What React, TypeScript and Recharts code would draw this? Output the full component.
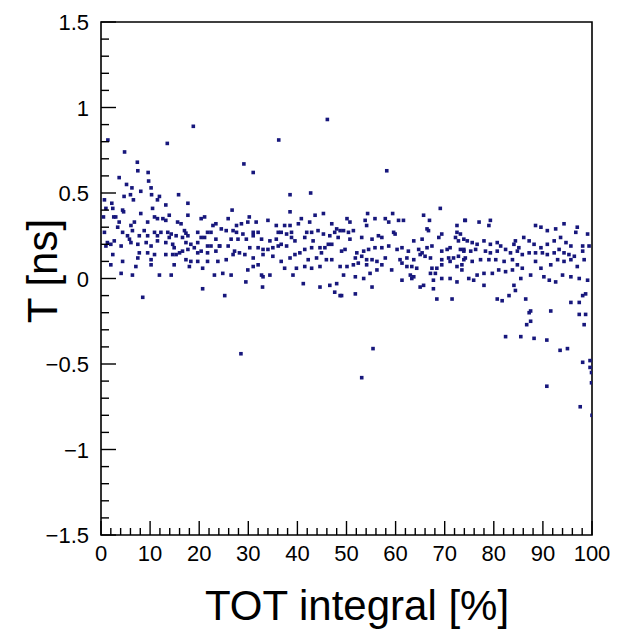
import React from "react";
import { ScatterChart, Scatter, XAxis, YAxis, ReferenceArea } from "recharts";

// T vs TOT integral ([x %, T ns])
const band0to25: [number, number][] = [
  [3.7, 0.59], [7.5, 0.63], [9.6, 0.62], [9.7, 0.57], [5.2, 0.55], [6.3, 0.53], [8.1, 0.51], [10.2, 0.53],
  [10.3, 0.49], [6.0, 0.49], [4.7, 0.48], [6.6, 0.46], [0.7, 0.46], [2.2, 0.44], [11.9, 0.48], [11.5, 0.46],
  [15.8, 0.49], [13.2, 0.43], [17.7, 0.44], [10.5, 0.41], [1.0, 0.41], [2.4, 0.41], [4.4, 0.4], [4.6, 0.39],
  [0.5, 0.36], [2.6, 0.36], [3.0, 0.36], [8.1, 0.38], [10.9, 0.36], [11.5, 0.35], [12.6, 0.35], [13.2, 0.34],
  [13.9, 0.37], [17.7, 0.37], [21.1, 0.36], [20.4, 0.35], [3.7, 0.33], [6.8, 0.33], [6.1, 0.31], [9.5, 0.33],
  [15.6, 0.33], [16.3, 0.32], [23.4, 0.32], [22.8, 0.31], [3.4, 0.3], [0.7, 0.27], [4.4, 0.27], [6.4, 0.28],
  [8.8, 0.28], [10.9, 0.27], [12.2, 0.27], [13.6, 0.27], [17.0, 0.28], [17.3, 0.265], [19.7, 0.27], [21.7, 0.27],
  [22.4, 0.27], [14.3, 0.26], [5.4, 0.25], [5.8, 0.23], [7.8, 0.25], [9.5, 0.25], [11.5, 0.25], [13.9, 0.24],
  [15.3, 0.25], [16.6, 0.24], [17.7, 0.25], [20.4, 0.24], [21.1, 0.24], [23.4, 0.23], [1.3, 0.21], [2.0, 0.2],
  [2.7, 0.22], [1.0, 0.19], [4.1, 0.19], [6.1, 0.21], [7.5, 0.2], [9.2, 0.21], [10.2, 0.19], [11.5, 0.22],
  [13.2, 0.21], [14.6, 0.2], [14.9, 0.18], [17.3, 0.21], [18.3, 0.2], [19.7, 0.21], [19.0, 0.18], [22.4, 0.19],
  [21.7, 0.19], [24.1, 0.19], [2.4, 0.14], [7.8, 0.15], [9.5, 0.15], [10.9, 0.14], [13.2, 0.14], [14.6, 0.14],
  [15.3, 0.14], [16.0, 0.15], [16.6, 0.16], [17.7, 0.17], [19.7, 0.15], [20.4, 0.16], [21.7, 0.15], [23.4, 0.16],
  [7.5, 0.12], [10.2, 0.11], [17.3, 0.11], [18.3, 0.1], [19.7, 0.1], [21.7, 0.1], [23.8, 0.1], [4.4, 0.1],
  [2.0, 0.08], [7.1, 0.07], [10.2, 0.08], [14.9, 0.08], [18.0, 0.07], [20.7, 0.06], [4.1, 0.03], [6.4, 0.02],
  [11.9, 0.02], [14.3, 0.02], [23.1, 0.02], [20.7, -0.06], [8.5, -0.11],
];

const band25to50: [number, number][] = [
  [31.0, 0.62], [38.5, 0.49], [42.7, 0.5], [26.7, 0.4], [38.5, 0.39], [25.9, 0.35], [30.2, 0.36], [29.9, 0.33],
  [28.6, 0.32], [27.6, 0.31], [31.6, 0.33], [34.0, 0.34], [35.7, 0.31], [37.4, 0.31], [38.5, 0.31], [40.2, 0.32],
  [40.8, 0.35], [42.5, 0.33], [43.6, 0.37], [45.3, 0.38], [47.0, 0.32], [48.0, 0.29], [48.7, 0.28], [24.5, 0.29],
  [25.5, 0.28], [26.9, 0.28], [27.6, 0.27], [28.9, 0.26], [31.0, 0.27], [32.0, 0.27], [36.1, 0.27], [36.7, 0.27],
  [37.8, 0.26], [38.8, 0.27], [41.9, 0.27], [42.9, 0.27], [44.2, 0.28], [45.3, 0.26], [47.6, 0.27], [48.3, 0.24],
  [26.5, 0.23], [27.9, 0.23], [29.6, 0.23], [31.0, 0.25], [32.7, 0.23], [34.4, 0.22], [35.7, 0.23], [38.8, 0.24],
  [39.5, 0.22], [41.5, 0.24], [43.2, 0.22], [46.6, 0.25], [24.2, 0.19], [25.9, 0.19], [27.2, 0.16], [28.2, 0.15],
  [29.3, 0.14], [30.3, 0.18], [32.0, 0.18], [33.0, 0.17], [34.0, 0.17], [35.0, 0.18], [36.1, 0.19], [36.7, 0.2],
  [37.8, 0.19], [40.5, 0.15], [41.5, 0.17], [42.9, 0.18], [44.6, 0.18], [45.6, 0.18], [46.3, 0.2], [47.0, 0.2],
  [49.0, 0.16], [25.5, 0.11], [26.9, 0.14], [31.0, 0.12], [33.0, 0.14], [35.0, 0.13], [38.5, 0.12], [39.5, 0.14],
  [42.2, 0.11], [43.9, 0.12], [44.9, 0.15], [45.9, 0.11], [47.0, 0.11], [24.8, 0.03], [26.5, 0.02], [29.9, 0.05],
  [31.0, 0.07], [32.0, 0.08], [36.7, 0.1], [37.4, 0.06], [39.8, 0.06], [41.5, 0.07], [42.9, 0.06], [44.6, 0.07],
  [48.7, 0.07], [32.7, 0.02], [33.0, 0.01], [34.4, 0.02], [39.1, 0.02], [29.5, -0.02], [32.9, -0.05], [41.2, -0.03],
  [44.6, -0.05], [46.6, -0.04], [48.0, -0.03], [47.6, -0.08], [48.7, -0.1], [25.2, -0.1],
];

const band50to75: [number, number][] = [
  [58.2, 0.63], [69.1, 0.41], [54.3, 0.38], [59.4, 0.38], [65.7, 0.37], [50.1, 0.35], [50.7, 0.33], [53.8, 0.34],
  [55.8, 0.35], [57.9, 0.35], [58.6, 0.33], [60.6, 0.34], [61.6, 0.34], [66.9, 0.34], [72.5, 0.31], [74.1, 0.34],
  [49.4, 0.28], [50.4, 0.27], [51.4, 0.28], [54.1, 0.31], [56.5, 0.25], [57.2, 0.24], [59.6, 0.27], [59.9, 0.26],
  [66.4, 0.29], [66.7, 0.28], [69.4, 0.26], [72.5, 0.27], [73.2, 0.26], [50.7, 0.23], [53.1, 0.24], [55.2, 0.23],
  [63.7, 0.22], [65.4, 0.23], [68.8, 0.24], [72.2, 0.24], [72.8, 0.22], [73.9, 0.23], [49.7, 0.17], [52.1, 0.15],
  [53.5, 0.16], [54.5, 0.17], [55.8, 0.18], [57.2, 0.18], [58.6, 0.19], [60.3, 0.17], [61.3, 0.18], [62.6, 0.16],
  [64.7, 0.17], [65.4, 0.15], [66.4, 0.18], [67.4, 0.19], [69.4, 0.16], [70.5, 0.17], [71.1, 0.18], [73.2, 0.17],
  [73.9, 0.16], [51.8, 0.12], [53.1, 0.13], [54.1, 0.11], [55.2, 0.11], [56.2, 0.1], [57.9, 0.12], [60.9, 0.11],
  [62.3, 0.12], [63.7, 0.11], [65.0, 0.14], [66.0, 0.13], [67.1, 0.12], [69.4, 0.11], [70.8, 0.12], [71.8, 0.12],
  [72.8, 0.13], [73.9, 0.11], [50.1, 0.07], [51.4, 0.08], [52.4, 0.09], [54.1, 0.08], [56.2, 0.05], [57.2, 0.08],
  [61.3, 0.09], [62.3, 0.07], [63.3, 0.07], [64.3, 0.06], [67.4, 0.06], [68.4, 0.06], [69.4, 0.08], [71.1, 0.1],
  [72.5, 0.07], [73.5, 0.08], [49.4, 0.02], [51.8, 0.01], [53.5, 0.0], [54.8, 0.03], [59.2, 0.05], [61.3, -0.01],
  [63.0, 0.02], [63.3, 0.0], [63.7, 0.01], [67.1, 0.03], [68.1, 0.03], [67.7, -0.01], [69.4, 0.0], [71.1, 0.0],
  [72.5, -0.02], [73.5, 0.05], [49.0, -0.1], [51.8, -0.09], [55.2, -0.05], [65.0, -0.05], [65.7, -0.04], [67.7, -0.06],
  [68.4, -0.12], [71.5, -0.12],
];

const band75to100: [number, number][] = [
  [74.2, 0.34], [77.0, 0.33], [79.3, 0.34], [79.0, 0.31], [88.5, 0.31], [89.6, 0.3], [90.9, 0.28], [92.6, 0.29],
  [94.3, 0.32], [97.0, 0.3], [96.7, 0.27], [99.1, 0.26], [74.6, 0.22], [75.6, 0.21], [76.6, 0.2], [78.0, 0.22],
  [79.3, 0.2], [80.7, 0.21], [81.4, 0.19], [84.4, 0.22], [84.1, 0.2], [85.1, 0.18], [86.1, 0.24], [87.2, 0.22],
  [88.2, 0.2], [89.6, 0.18], [90.9, 0.2], [92.3, 0.22], [93.6, 0.24], [94.7, 0.21], [95.7, 0.19], [98.1, 0.19],
  [99.4, 0.19], [73.9, 0.17], [75.3, 0.16], [76.3, 0.17], [78.3, 0.16], [79.3, 0.15], [80.7, 0.16], [82.4, 0.17],
  [83.4, 0.15], [84.8, 0.16], [85.8, 0.14], [87.2, 0.15], [88.5, 0.15], [89.9, 0.15], [90.9, 0.14], [92.3, 0.15],
  [93.3, 0.17], [94.3, 0.15], [95.3, 0.14], [96.4, 0.13], [98.1, 0.16], [98.4, 0.11], [74.2, 0.12], [75.6, 0.1],
  [77.3, 0.11], [79.0, 0.11], [80.4, 0.11], [82.1, 0.1], [83.8, 0.11], [84.8, 0.08], [85.8, 0.06], [88.5, 0.1],
  [89.6, 0.06], [91.6, 0.08], [93.0, 0.11], [94.3, 0.1], [95.7, 0.11], [97.0, 0.07], [74.9, 0.0], [76.6, 0.02],
  [78.0, 0.03], [79.7, 0.03], [81.0, 0.05], [82.4, 0.04], [83.8, 0.05], [85.5, 0.0], [87.5, 0.02], [90.2, 0.01],
  [91.3, -0.01], [92.6, -0.02], [94.0, 0.02], [95.7, 0.01], [97.4, 0.0], [99.1, -0.01], [75.9, -0.01], [78.0, -0.04],
  [80.7, -0.12], [81.7, -0.13], [83.1, -0.1], [84.4, -0.07], [84.1, -0.04], [86.5, -0.12], [87.2, -0.2], [91.6, -0.19],
  [95.7, -0.14], [97.4, -0.14], [98.1, -0.1], [98.7, -0.09], [97.4, -0.21], [98.7, -0.21], [87.5, -0.19], [86.7, -0.27],
  [87.5, -0.25], [98.4, -0.27], [82.4, -0.34], [85.5, -0.34], [88.2, -0.35], [90.8, -0.36], [93.5, -0.42], [95.0, -0.41],
  [98.1, -0.49], [99.6, -0.48], [99.6, -0.52], [99.9, -0.55], [99.9, -0.61],
];

const outliers: [number, number][] = [
  [1.4, 0.81], [4.8, 0.74], [7.4, 0.68], [13.5, 0.79], [18.8, 0.89], [29.1, 0.67], [36.2, 0.81], [46.1, 0.93],
  [28.5, -0.44], [53.1, -0.58], [55.4, -0.41], [90.8, -0.63], [97.6, -0.75], [100, -0.8],
];

const xTicks = [
  0, 2, 4, 6, 8, 10, 12, 14, 16, 18, 20, 22, 24, 26, 28, 30, 32, 34, 36, 38, 40, 42, 44, 46, 48, 50,
  52, 54, 56, 58, 60, 62, 64, 66, 68, 70, 72, 74, 76, 78, 80, 82, 84, 86, 88, 90, 92, 94, 96, 98, 100,
];
const yTicks = [
  -1.5, -1.4, -1.3, -1.2, -1.1, -1, -0.9, -0.8, -0.7, -0.6, -0.5, -0.4, -0.3, -0.2, -0.1, 0,
  0.1, 0.2, 0.3, 0.4, 0.5, 0.6, 0.7, 0.8, 0.9, 1, 1.1, 1.2, 1.3, 1.4, 1.5,
];

const FONT = "'Liberation Sans', Arial, Helvetica, sans-serif";
const MARKER = "#17177c";

const points = [...band0to25, ...band25to50, ...band50to75, ...band75to100, ...outliers].map(([x, y]) => ({ x, y }));

const fmt = (v: number) => (v < 0 ? "\u2212" + Math.abs(v) : String(v));

function XTick({ x, y, payload }: any) {
  const v = payload.value as number;
  const major = v % 10 === 0;
  return (
    <g>
      <line x1={x} x2={x} y1={y} y2={y - (major ? 14 : 7)} stroke="#000" strokeWidth={1.4} />
      {major && (
        <text x={x} y={y + 26} textAnchor="middle" fontSize={22} fontFamily={FONT} fill="#000">
          {v}
        </text>
      )}
    </g>
  );
}

function YTick({ x, y, payload }: any) {
  const v = payload.value as number;
  const major = Math.abs(v * 2 - Math.round(v * 2)) < 1e-6;
  return (
    <g>
      <line x1={x} x2={x + (major ? 15 : 8)} y1={y} y2={y} stroke="#000" strokeWidth={1.4} />
      {major && (
        <text x={x - 12} y={y + 8} textAnchor="end" fontSize={22} fontFamily={FONT} fill="#000">
          {fmt(v)}
        </text>
      )}
    </g>
  );
}

const square = (p: any) => <rect x={p.cx - 1.8} y={p.cy - 1.8} width={3.6} height={3.6} fill={MARKER} />;

export default function App() {
  return (
    <div style={{ position: "absolute", left: 0, top: 0, width: 620, height: 632, background: "#fff" }}>
      <ScatterChart width={620} height={632} margin={{ top: 22, right: 28, bottom: 0, left: 0 }}>
        <XAxis
          type="number"
          dataKey="x"
          domain={[0, 100]}
          ticks={xTicks}
          interval={0}
          height={97}
          tickSize={0}
          tickMargin={0}
          tickLine={false}
          axisLine={false}
          tick={<XTick />}
          allowDataOverflow
        />
        <YAxis
          type="number"
          dataKey="y"
          domain={[-1.5, 1.5]}
          ticks={yTicks}
          interval={0}
          width={101}
          tickSize={0}
          tickMargin={0}
          tickLine={false}
          axisLine={false}
          tick={<YTick />}
          allowDataOverflow
        />
        <ReferenceArea x1={0} x2={100} y1={-1.5} y2={1.5} fill="none" stroke="#000" strokeWidth={1.6} fillOpacity={0} />
        <Scatter data={points} shape={square} isAnimationActive={false} />
      </ScatterChart>
      <svg width={620} height={632} style={{ position: "absolute", left: 0, top: 0, pointerEvents: "none" }}>
        <text x={357} y={620} textAnchor="middle" fontSize={42} fontFamily={FONT} fill="#000">
          TOT integral [%]
        </text>
        <text x={57} y={271} textAnchor="middle" fontSize={42} fontFamily={FONT} fill="#000" transform="rotate(-90 57 271)">
          T [ns]
        </text>
      </svg>
    </div>
  );
}
